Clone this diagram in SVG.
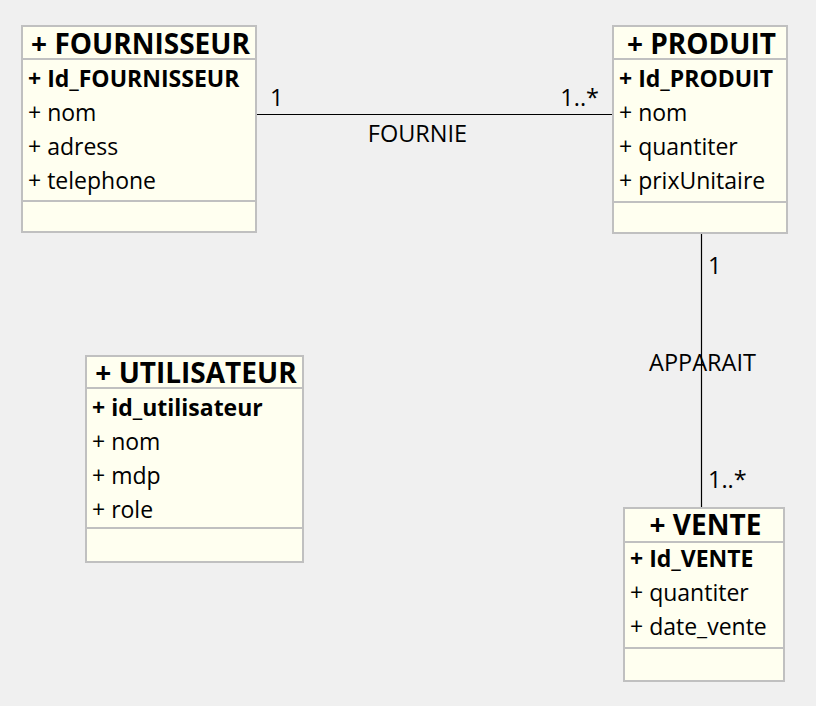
<svg xmlns="http://www.w3.org/2000/svg" width="816" height="706" viewBox="0 0 816 706">
<style>
.box{fill:#FFFFF0;stroke:#C0C0C0;stroke-width:2}
.sep{stroke:#C0C0C0;stroke-width:2}
.title{font-family:"Open Sans","Noto Sans",sans-serif;font-weight:bold;font-size:28px;fill:#000;text-anchor:middle}
.attr{font-family:"Open Sans","Noto Sans",sans-serif;font-size:23px;fill:#000}
.key{font-weight:bold}
.lbl{font-family:"Open Sans","Noto Sans",sans-serif;font-size:23.5px;fill:#000}
.conn{stroke:#000;stroke-width:1.2;fill:none}
</style>
<rect width="816" height="706" fill="#F0F0F0"/>
<g id="connectors">
<line class="conn" x1="256" y1="114.5" x2="613" y2="114.5"/>
<line class="conn" x1="701.5" y1="233" x2="701.5" y2="508"/>
<text class="lbl" x="270" y="106">1</text>
<text class="lbl" x="599" y="106" text-anchor="end">1..*</text>
<text class="lbl" x="417.5" y="142" text-anchor="middle">FOURNIE</text>
<text class="lbl" x="702.5" y="371" text-anchor="middle">APPARAIT</text>
<text class="lbl" x="708" y="274">1</text>
<text class="lbl" x="708" y="488">1..*</text>
</g>
<g id="FOURNISSEUR">
<rect class="box" x="22" y="26" width="234" height="206"/>
<line class="sep" x1="22" y1="59" x2="256" y2="59"/>
<line class="sep" x1="22" y1="201" x2="256" y2="201"/>
<text class="title" x="140.5" y="54">+ FOURNISSEUR</text>
<text class="attr key" x="28" y="87">+ Id_FOURNISSEUR</text>
<text class="attr" x="28" y="121">+ nom</text>
<text class="attr" x="28" y="155">+ adress</text>
<text class="attr" x="28" y="189">+ telephone</text>
</g>
<g id="PRODUIT">
<rect class="box" x="613" y="26" width="174" height="207"/>
<line class="sep" x1="613" y1="59" x2="787" y2="59"/>
<line class="sep" x1="613" y1="202" x2="787" y2="202"/>
<text class="title" x="701.5" y="54">+ PRODUIT</text>
<text class="attr key" x="619" y="87">+ Id_PRODUIT</text>
<text class="attr" x="619" y="121">+ nom</text>
<text class="attr" x="619" y="155">+ quantiter</text>
<text class="attr" x="619" y="189">+ prixUnitaire</text>
</g>
<g id="UTILISATEUR">
<rect class="box" x="86" y="356" width="217" height="206"/>
<line class="sep" x1="86" y1="388" x2="303" y2="388"/>
<line class="sep" x1="86" y1="528" x2="303" y2="528"/>
<text class="title" x="196" y="383">+ UTILISATEUR</text>
<text class="attr key" x="92" y="416">+ id_utilisateur</text>
<text class="attr" x="92" y="450">+ nom</text>
<text class="attr" x="92" y="484">+ mdp</text>
<text class="attr" x="92" y="518">+ role</text>
</g>
<g id="VENTE">
<rect class="box" x="624" y="508" width="160" height="173"/>
<line class="sep" x1="624" y1="542" x2="784" y2="542"/>
<line class="sep" x1="624" y1="648" x2="784" y2="648"/>
<text class="title" x="705.5" y="535">+ VENTE</text>
<text class="attr key" x="630" y="567">+ Id_VENTE</text>
<text class="attr" x="630" y="601">+ quantiter</text>
<text class="attr" x="630" y="635">+ date_vente</text>
</g>
</svg>
